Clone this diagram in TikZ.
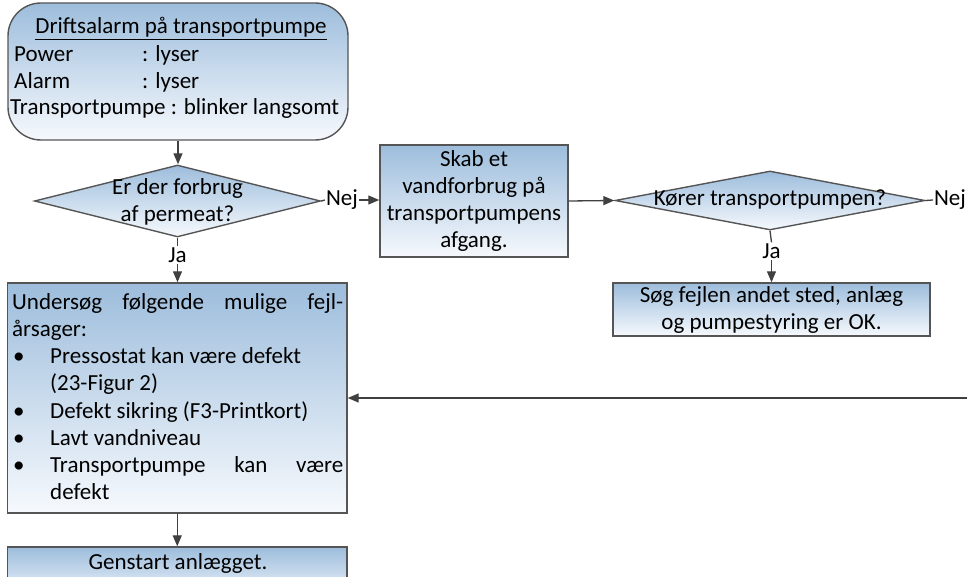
\documentclass[tikz,border=0pt]{standalone}
\usepackage{fontspec}
\setmainfont{Carlito}
\usetikzlibrary{shapes.geometric,arrows.meta}
\definecolor{edge}{RGB}{85,85,85}
\definecolor{wire}{RGB}{64,64,64}
\definecolor{shadetop}{RGB}{157,189,220}
\definecolor{shadebot}{RGB}{246,249,253}
\tikzset{
  panel/.style={draw=edge, line width=1.4pt, top color=shadetop, bottom color=shadebot, inner sep=0pt},
  rectbox/.style={panel, rectangle, align=center},
  decision/.style={panel, diamond},
  txt/.style={font=\fontsize{23}{27}\selectfont, inner sep=0pt},
  flow/.style={draw=wire, line width=1.3pt, -{Triangle[length=11pt,width=9pt]}},
  link/.style={draw=wire, line width=1.3pt},
}
\begin{document}
\begin{tikzpicture}[x=1pt,y=-1pt]
\useasboundingbox (0,0) rectangle (967,577);
\clip (0,0) rectangle (967,577);

% start: alarm state
\node[panel, rectangle, rounded corners=33pt, minimum width=340pt, minimum height=137pt] (alarm) at (178,71.5) {};
\node[txt, anchor=base] (alarmtitle) at (181,34) {\underline{Driftsalarm på transportpumpe}};
\node[txt, anchor=base west] (lpower) at (14,62) {Power};
\node[txt, anchor=base west] (vpower) at (142,62) {: lyser};
\node[txt, anchor=base west] (lalarm) at (14,89) {Alarm};
\node[txt, anchor=base west] (valarm) at (142,89) {: lyser};
\node[txt, anchor=base west] (lpumpe) at (10,115) {Transportpumpe : blinker langsomt};

% first decision
\node[decision, minimum width=286pt, minimum height=72pt] (forbrug) at (177.5,201) {};
\node[txt, align=center] (forbrugq) at (177.5,201.5) {Er der forbrug\\af permeat?};
\node[txt, inner sep=1pt] (nej1) at (342,200) {Nej};
\node[txt, inner sep=1pt] (ja1) at (177.5,255) {Ja};

% create consumption
\node[rectbox, txt, minimum width=188pt, minimum height=112pt] (skab) at (474,201) {Skab et\\vandforbrug på\\transportpumpens\\afgang.};

% second decision
\node[decision, minimum width=310pt, minimum height=59pt] (koerer) at (770,200.5) {};
\node[txt] (koererq) at (770,199) {Kører transportpumpen?};
\node[txt, inner sep=1pt] (nej2) at (950,200) {Nej};
\node[txt, inner sep=1pt] (ja2) at (771.5,251) {Ja};

% search elsewhere
\node[rectbox, txt, minimum width=317pt, minimum height=53pt] (soeg) at (771.5,309.5) {Søg fejlen andet sted, anlæg\\og pumpestyring er OK.};

% list of possible causes
\node[rectbox, minimum width=339.5pt, minimum height=230pt] (undersoeg) at (177.25,398) {};
\node[txt, anchor=base west] (u1) at (12,310) {\makebox[331pt][l]{Undersøg\hfill følgende\hfill mulige\hfill fejl-}};
\node[txt, anchor=base west] (u2) at (12,337) {årsager:};
\node[txt, anchor=base west] (b1) at (13,364) {•};
\node[txt, anchor=base west] (u3) at (50,364) {Pressostat kan være defekt};
\node[txt, anchor=base west] (u4) at (50,391) {(23-Figur 2)};
\node[txt, anchor=base west] (b2) at (13,418) {•};
\node[txt, anchor=base west] (u5) at (50,418) {Defekt sikring (F3-Printkort)};
\node[txt, anchor=base west] (b3) at (13,445) {•};
\node[txt, anchor=base west] (u6) at (50,445) {Lavt vandniveau};
\node[txt, anchor=base west] (b4) at (13,472) {•};
\node[txt, anchor=base west] (u7) at (50,472) {\makebox[293pt][l]{Transportpumpe\hfill kan\hfill være}};
\node[txt, anchor=base west] (u8) at (50,499) {defekt};

% restart
\node[rectbox, minimum width=339.5pt, minimum height=55pt] (genstart) at (177.25,574.5) {};
\node[txt, anchor=base] (genstartt) at (178,569) {Genstart anlægget.};

% connectors
\coordinate (retur) at (975,398);
\draw[flow] (alarm.south) -- (alarm.south |- forbrug.north);
\draw[link] (forbrug.east) -- (nej1.west);
\draw[flow] (nej1.east) -- (nej1.east -| skab.west);
\draw[link] (forbrug.south) -- (ja1.north);
\draw[flow] (ja1.south) -- (ja1.south |- undersoeg.north);
\draw[flow] (skab.east) -- (koerer.west);
\draw[link] (koerer.east) -- (nej2.west);
\draw[link] (koerer.south) -- (ja2.north);
\draw[flow] (ja2.south) -- (ja2.south |- soeg.north);
\draw[flow] (retur) -- (undersoeg.east);
\draw[flow] (undersoeg.south) -- (genstart.north);
\end{tikzpicture}
\end{document}
